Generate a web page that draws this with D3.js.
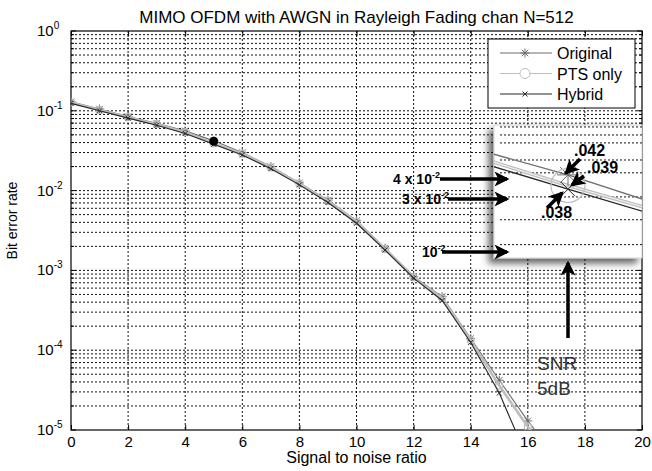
<!DOCTYPE html>
<html>
<head>
<meta charset="utf-8">
<script src="https://cdn.jsdelivr.net/npm/d3@7"></script>
<style>
    body { margin: 0; background: #fff; }
    svg text { font-family: "Liberation Sans", Arial, Helvetica, sans-serif; fill: #000; }
</style>
</head>
<body>
<div id="chart"></div>
<script>

// ---- chart data ----
const snrValues   = [0, 1, 2, 3, 4, 5, 6, 7, 8, 9, 10, 11, 12, 13, 14, 15, 16, 17];
const originalBer = [0.130, 0.105, 0.085, 0.070, 0.056, 0.042, 0.030, 0.020, 0.0125, 0.0076, 0.0042, 0.0019, 0.00084, 0.00047, 0.00014, 4.2e-5, 1.3e-5, 4.5e-6];
const ptsBer      = [0.127, 0.102, 0.083, 0.068, 0.054, 0.039, 0.029, 0.0195, 0.0122, 0.0074, 0.0041, 0.00185, 0.00082, 0.00045, 0.000133, 3.6e-5, 1.1e-5, 3.5e-6];
const hybridBer   = [0.124, 0.100, 0.081, 0.066, 0.052, 0.038, 0.028, 0.0188, 0.0118, 0.0071, 0.0039, 0.0018, 0.00080, 0.00042, 0.000125, 2.9e-5, 4.3e-6];
const seriesNames = ["Original", "PTS only", "Hybrid"];

const xTicks     = [0, 2, 4, 6, 8, 10, 12, 14, 16, 18, 20];
const yDecades   = [1, 1e-1, 1e-2, 1e-3, 1e-4, 1e-5];
const yExponents = ["0", "-1", "-2", "-3", "-4", "-5"];

// point marked on the curve and the zoomed view around it
const markedPoint = {snr: 5, ber: 0.0415};
const zoomSnr = 5;
const zoomLabels = [".042", ".039", ".038"];
const insetGrid = [0.0587, 0.0555, 0.0525, 0.0466, 0.0426, 0.0360, 0.0307, 0.0258];
const sideNotes = [
    {base: "4 x 10", exp: "-2"},
    {base: "3 x 10", exp: "-2"},
    {base: "10", exp: "-2"}
];
const snrNote = ["SNR", "5dB"];


class BerVis {

    constructor(parentElement) {
        this.parentElement = parentElement;
        this.initVis();
    }

    initVis() {
        let vis = this;

        vis.margin = {top: 31, right: 10, bottom: 41, left: 71};
        vis.width = 652 - vis.margin.left - vis.margin.right;
        vis.height = 471 - vis.margin.top - vis.margin.bottom;

        vis.root = d3.select("#" + vis.parentElement).append("svg")
            .attr("width", 652)
            .attr("height", 471);

        vis.defs = vis.root.append("defs");

        vis.defs.append("clipPath").attr("id", "plotClip")
            .append("rect").attr("width", vis.width).attr("height", vis.height);

        vis.defs.append("filter").attr("id", "shadow")
            .attr("x", "-20%").attr("y", "-20%").attr("width", "140%").attr("height", "140%")
            .append("feDropShadow")
            .attr("dx", -5).attr("dy", 5).attr("stdDeviation", 3.5)
            .attr("flood-color", "#000").attr("flood-opacity", 0.6);

        vis.defs.append("marker").attr("id", "arrowHead")
            .attr("viewBox", "0 0 12 12")
            .attr("refX", 10).attr("refY", 6)
            .attr("markerWidth", 15).attr("markerHeight", 15)
            .attr("markerUnits", "userSpaceOnUse")
            .attr("orient", "auto")
            .append("path")
            .attr("d", "M0,0 L12,6 L0,12 L3,6 Z")
            .attr("fill", "#000");

        vis.svg = vis.root.append("g")
            .attr("transform", `translate(${vis.margin.left}, ${vis.margin.top})`);

        // init scales
        vis.x = d3.scaleLinear().domain([0, 20]).range([0, vis.width]);
        vis.y = d3.scaleLog().domain([1e-5, 1]).range([vis.height, 0]);

        vis.line = d3.line()
            .x(d => vis.x(d.snr))
            .y(d => vis.y(d.ber));

        vis.styles = {
            "Original": {stroke: "#6e6e6e", width: 1.1, marker: "star"},
            "PTS only": {stroke: "#bdbdbd", width: 2.6, marker: "circle"},
            "Hybrid":   {stroke: "#262626", width: 1.1, marker: "cross"}
        };

        vis.wrangleData();
    }

    wrangleData() {
        let vis = this;

        let columns = [originalBer, ptsBer, hybridBer];
        vis.series = seriesNames.map((name, i) => ({
            name: name,
            values: columns[i].map((ber, j) => ({snr: snrValues[j], ber: ber}))
        }));

        vis.updateVis();
    }

    markerPath(type, r) {
        if (type === "star") {
            let d = r * 0.72;
            return `M${-r},0L${r},0M0,${-r}L0,${r}M${-d},${-d}L${d},${d}M${-d},${d}L${d},${-d}`;
        }
        if (type === "cross") {
            return `M${-r},${-r}L${r},${r}M${-r},${r}L${r},${-r}`;
        }
        return d3.symbol(d3.symbolCircle, Math.PI * r * r)();
    }

    drawMarkers(group, values, style, r, sx, sy) {
        let vis = this;
        group.selectAll("path.mk")
            .data(values)
            .enter()
            .append("path")
            .attr("class", "mk")
            .attr("d", vis.markerPath(style.marker, r))
            .attr("transform", d => `translate(${sx(d.snr)}, ${sy(d.ber)})`)
            .attr("fill", "none")
            .attr("stroke", style.stroke)
            .attr("stroke-width", style.marker === "circle" ? 1.2 : 1);
    }

    updateVis() {
        let vis = this;

        // grid
        let grid = vis.svg.append("g").attr("class", "grid")
            .attr("stroke", "#111").attr("stroke-width", 1).attr("stroke-dasharray", "2,2");

        grid.selectAll("line.gx")
            .data(xTicks.slice(1, -1))
            .enter().append("line")
            .attr("x1", d => vis.x(d)).attr("x2", d => vis.x(d))
            .attr("y1", 0).attr("y2", vis.height);

        vis.yGrid = vis.y.ticks().filter(d => d > 1.0001e-5 && d < 0.9999);
        grid.selectAll("line.gy")
            .data(vis.yGrid)
            .enter().append("line")
            .attr("x1", 0).attr("x2", vis.width)
            .attr("y1", d => vis.y(d)).attr("y2", d => vis.y(d));

        // axes with inward ticks
        vis.svg.append("g")
            .attr("class", "axis x-axis")
            .attr("transform", `translate(0, ${vis.height})`)
            .call(d3.axisBottom(vis.x).tickValues(xTicks).tickSizeInner(-5).tickSizeOuter(0).tickPadding(6))
            .call(g => g.select(".domain").remove())
            .selectAll("text")
            .attr("font-size", "15px");

        vis.svg.append("g")
            .attr("class", "axis x-axis-top")
            .call(d3.axisTop(vis.x).tickValues(xTicks).tickSizeInner(-5).tickSizeOuter(0).tickFormat(""))
            .call(g => g.select(".domain").remove());

        let minorTicks = vis.y.ticks().filter(d => !yDecades.includes(d));
        [0, vis.width].forEach((xPos, k) => {
            let dir = k === 0 ? 1 : -1;
            let t = vis.svg.append("g").attr("stroke", "#000");
            t.selectAll("line.minor").data(minorTicks).enter().append("line")
                .attr("x1", xPos).attr("x2", xPos + dir * 3)
                .attr("y1", d => vis.y(d)).attr("y2", d => vis.y(d));
            t.selectAll("line.major").data(yDecades).enter().append("line")
                .attr("x1", xPos).attr("x2", xPos + dir * 5)
                .attr("y1", d => vis.y(d)).attr("y2", d => vis.y(d));
        });

        // y tick labels as powers of ten
        let yLabels = vis.svg.append("g").attr("class", "y-labels");
        yLabels.selectAll("text")
            .data(yDecades)
            .enter().append("text")
            .attr("x", -34)
            .attr("y", d => vis.y(d) + 5)
            .attr("font-size", "15px")
            .each(function (d, i) {
                let t = d3.select(this);
                t.append("tspan").text("10");
                t.append("tspan").attr("dy", -7).attr("font-size", "10px").text(yExponents[i]);
            });

        // plot frame
        vis.svg.append("rect")
            .attr("width", vis.width).attr("height", vis.height)
            .attr("fill", "none").attr("stroke", "#000").attr("stroke-width", 1.2);

        // curves
        let curves = vis.svg.append("g").attr("clip-path", "url(#plotClip)");
        vis.series.forEach(s => {
            let st = vis.styles[s.name];
            let g = curves.append("g").attr("class", "series");
            g.append("path")
                .datum(s.values)
                .attr("d", vis.line)
                .attr("fill", "none")
                .attr("stroke", st.stroke)
                .attr("stroke-width", st.width);
            vis.drawMarkers(g, s.values, st, st.marker === "circle" ? 3.5 : (st.marker === "star" ? 4.5 : 2.5), vis.x, vis.y);
        });

        // highlighted point
        vis.svg.append("circle")
            .attr("cx", vis.x(markedPoint.snr))
            .attr("cy", vis.y(markedPoint.ber))
            .attr("r", 4.5)
            .attr("fill", "#000");

        vis.drawLegend();
        vis.drawInset();

        // axis titles
        vis.svg.append("text")
            .attr("x", vis.width / 2).attr("y", -8)
            .attr("text-anchor", "middle")
            .attr("font-size", "17px")
            .text("MIMO OFDM with AWGN in Rayleigh Fading chan N=512");

        vis.svg.append("text")
            .attr("x", vis.width / 2).attr("y", vis.height + 33)
            .attr("text-anchor", "middle")
            .attr("font-size", "16px")
            .text("Signal to noise ratio");

        vis.svg.append("text")
            .attr("transform", `translate(-54, ${vis.height / 2 - 10}) rotate(-90)`)
            .attr("text-anchor", "middle")
            .attr("font-size", "14px")
            .text("Bit error rate");
    }

    drawLegend() {
        let vis = this;
        let lg = vis.svg.append("g").attr("class", "legend").attr("transform", "translate(417, 8)");

        lg.append("rect")
            .attr("width", 147).attr("height", 69)
            .attr("fill", "#fff").attr("stroke", "#000").attr("stroke-width", 1);

        seriesNames.forEach((name, i) => {
            let st = vis.styles[name];
            let yPos = 14 + i * 20.5;
            lg.append("line")
                .attr("x1", 12).attr("x2", 64)
                .attr("y1", yPos).attr("y2", yPos)
                .attr("stroke", st.stroke)
                .attr("stroke-width", st.marker === "circle" ? 1.2 : 1.1);
            lg.append("path")
                .attr("d", vis.markerPath(st.marker, st.marker === "circle" ? 5 : (st.marker === "star" ? 4.5 : 2.5)))
                .attr("transform", `translate(37, ${yPos})`)
                .attr("fill", st.marker === "circle" ? "#fff" : "none")
                .attr("stroke", st.stroke);
            lg.append("text")
                .attr("x", 69).attr("y", yPos + 6)
                .attr("font-size", "16px")
                .text(name);
        });
    }

    drawInset() {
        let vis = this;

        let box = {x: 423, y: 94, w: 148, h: 133};
        vis.xi = d3.scaleLinear().domain([4.5, 5.5]).range([box.x, box.x + box.w]);
        vis.yi = d3.scaleLog().domain([0.0595, 0.0235]).range([box.y, box.y + box.h]);

        vis.defs.append("clipPath").attr("id", "insetClip")
            .append("rect").attr("x", box.x).attr("y", box.y).attr("width", box.w).attr("height", box.h);

        vis.svg.append("rect")
            .attr("x", box.x).attr("y", box.y).attr("width", box.w).attr("height", box.h)
            .attr("fill", "#fff").attr("stroke", "#d0d0d0")
            .attr("filter", "url(#shadow)");

        let inset = vis.svg.append("g").attr("clip-path", "url(#insetClip)");

        inset.selectAll("line.ig")
            .data(insetGrid)
            .enter().append("line")
            .attr("x1", box.x + 6).attr("x2", box.x + box.w)
            .attr("y1", d => vis.yi(d)).attr("y2", d => vis.yi(d))
            .attr("stroke", "#111").attr("stroke-dasharray", "2,2");

        let insetLine = d3.line().x(d => vis.xi(d.snr)).y(d => vis.yi(d.ber));
        vis.series.forEach(s => {
            let st = vis.styles[s.name];
            let near = s.values.filter(d => Math.abs(d.snr - zoomSnr) <= 1);
            inset.append("path")
                .datum(near)
                .attr("d", insetLine)
                .attr("fill", "none")
                .attr("stroke", st.stroke)
                .attr("stroke-width", st.marker === "circle" ? 3.5 : 1.3);
        });
        // light centre of the PTS band
        inset.append("path")
            .datum(vis.series[1].values.filter(d => Math.abs(d.snr - zoomSnr) <= 1))
            .attr("d", insetLine)
            .attr("fill", "none").attr("stroke", "#f2f2f2").attr("stroke-width", 1.2);

        vis.series.forEach(s => {
            let st = vis.styles[s.name];
            let pt = s.values.filter(d => d.snr === zoomSnr);
            let r = st.marker === "circle" ? 17 : (st.marker === "star" ? 11 : 7);
            vis.drawMarkers(inset.append("g"), pt, st, r, vis.xi, vis.yi);
        });

        // value labels with arrows
        let notes = vis.svg.append("g").attr("class", "notes");
        let labelPos = [[503, 125], [516, 142], [470, 187]];
        let arrowPos = [[509, 128, 495, 142], [513, 145, 501, 154], [476, 177, 491, 162]];

        zoomLabels.forEach((lab, i) => {
            notes.append("text")
                .attr("x", labelPos[i][0]).attr("y", labelPos[i][1])
                .attr("font-size", "16px").attr("font-weight", "bold")
                .text(lab);
            notes.append("line")
                .attr("x1", arrowPos[i][0]).attr("y1", arrowPos[i][1])
                .attr("x2", arrowPos[i][2]).attr("y2", arrowPos[i][3])
                .attr("stroke", "#000").attr("stroke-width", 3.5)
                .attr("marker-end", "url(#arrowHead)");
        });

        // notes on the left of the inset
        let sideY = [148, 168, 221];
        let sideX = [322, 331, 351];
        let arrowStart = [369, 377, 371];
        sideNotes.forEach((n, i) => {
            let t = notes.append("text")
                .attr("x", sideX[i]).attr("y", sideY[i] + 5)
                .attr("font-size", "14px").attr("font-weight", "bold");
            t.append("tspan").text(n.base);
            t.append("tspan").attr("dy", -6).attr("font-size", "9px").text(n.exp);
            notes.append("line")
                .attr("x1", arrowStart[i]).attr("x2", 436)
                .attr("y1", sideY[i]).attr("y2", sideY[i])
                .attr("stroke", "#000").attr("stroke-width", 3.5)
                .attr("marker-end", "url(#arrowHead)");
        });

        // SNR pointer below the inset
        notes.append("line")
            .attr("x1", vis.xi(zoomSnr)).attr("x2", vis.xi(zoomSnr))
            .attr("y1", 307).attr("y2", 232)
            .attr("stroke", "#000").attr("stroke-width", 3.5)
            .attr("marker-end", "url(#arrowHead)");

        snrNote.forEach((s, i) => {
            notes.append("text")
                .attr("x", 466).attr("y", 339 + i * 25)
                .attr("font-size", "19px")
                .style("fill", "#333")
                .text(s);
        });
    }
}

new BerVis("chart");

</script>
</body>
</html>
